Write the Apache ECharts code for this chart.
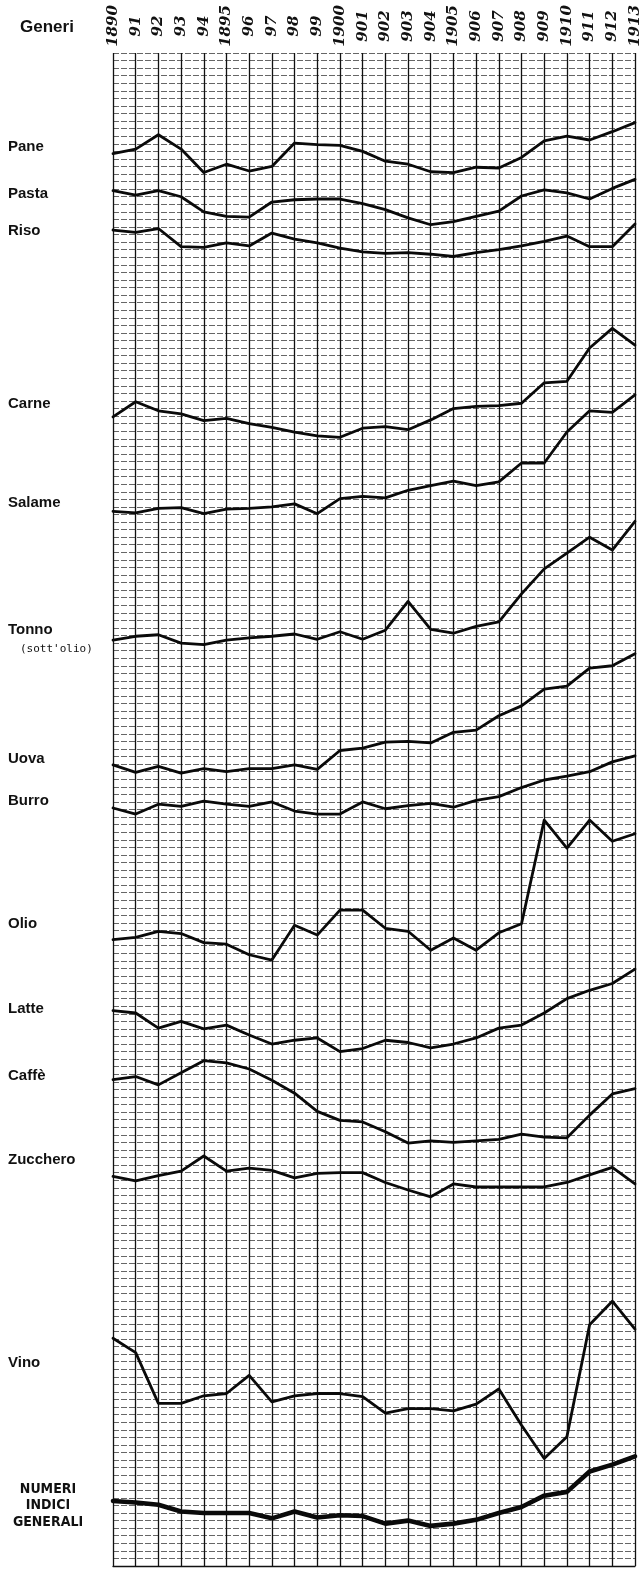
<!DOCTYPE html>
<html>
<head>
<meta charset="utf-8">
<script src="https://cdn.jsdelivr.net/npm/echarts@6/dist/echarts.min.js"></script>
<style>
html,body{margin:0;padding:0;background:#fff;}
#chart{width:643px;height:1572px;}
</style>
</head>
<body>
<div id="chart"></div>
<script>
// Years (tick labels as printed)
const years = ['1890','91','92','93','94','1895','96','97','98','99','1900','901','902','903','904','1905','906','907','908','909','1910','911','912','1913'];

// Values, in grid rows counted from the bottom of the sheet
const pane     = [186.7,187.3,189.2,187.3,184.2,185.3,184.4,185.0,188.1,187.9,187.8,187.0,185.7,185.3,184.3,184.2,184.9,184.8,186.2,188.4,189.0,188.5,189.6,190.8];
const pasta    = [181.8,181.2,181.8,181.0,179.0,178.4,178.3,180.3,180.6,180.7,180.7,180.1,179.3,178.2,177.3,177.7,178.4,179.1,181.1,181.9,181.5,180.7,182.1,183.3];
const riso     = [176.6,176.3,176.8,174.4,174.3,174.9,174.5,176.2,175.4,174.9,174.2,173.7,173.5,173.6,173.4,173.1,173.6,174.0,174.5,175.1,175.8,174.4,174.4,177.4];
const carne    = [151.9,153.9,152.7,152.3,151.4,151.7,151.0,150.5,149.9,149.4,149.2,150.4,150.6,150.2,151.5,153.0,153.3,153.4,153.7,156.4,156.6,161.0,163.6,161.4];
const salame   = [139.4,139.2,139.8,139.9,139.1,139.7,139.8,140.0,140.4,139.1,141.1,141.4,141.2,142.2,142.8,143.4,142.8,143.3,145.8,145.8,149.9,152.7,152.5,154.8];
const tonno    = [122.4,122.9,123.1,122.0,121.8,122.4,122.7,122.9,123.2,122.5,123.5,122.5,123.7,127.5,123.8,123.3,124.2,124.8,128.5,131.8,133.9,136.0,134.3,138.1];
const uova     = [105.9,104.9,105.7,104.8,105.4,105.0,105.4,105.4,105.9,105.3,107.8,108.1,108.9,109.0,108.8,110.2,110.5,112.4,113.7,115.9,116.3,118.7,119.0,120.6];
const burro    = [100.2,99.4,100.7,100.4,101.1,100.7,100.4,101.0,99.8,99.4,99.4,101.0,100.1,100.5,100.8,100.3,101.2,101.7,102.9,103.9,104.4,105.0,106.3,107.1];
const olio     = [82.8,83.1,83.9,83.6,82.4,82.2,80.8,80.1,84.7,83.4,86.7,86.7,84.3,83.9,81.4,83.0,81.4,83.7,84.9,98.6,94.9,98.6,95.8,96.8];
const latte    = [73.4,73.1,71.1,72.0,71.0,71.5,70.2,69.0,69.5,69.8,68.0,68.4,69.5,69.2,68.5,69.0,69.8,71.1,71.5,73.1,75.0,76.1,77.0,78.9];
const caffe    = [64.3,64.7,63.6,65.2,66.8,66.5,65.7,64.2,62.5,60.1,58.9,58.7,57.4,55.9,56.2,56.0,56.2,56.4,57.1,56.7,56.6,59.6,62.4,63.1];
const zucchero = [51.5,50.9,51.6,52.2,54.2,52.2,52.6,52.3,51.3,51.9,52.0,52.0,50.7,49.7,48.8,50.5,50.1,50.1,50.1,50.1,50.7,51.7,52.7,50.5];
const vino     = [30.1,28.2,21.5,21.5,22.5,22.8,25.2,21.7,22.5,22.8,22.8,22.4,20.2,20.8,20.8,20.5,21.4,23.4,18.6,14.2,17.1,31.9,35.0,31.3];
const indici   = [8.6,8.4,8.1,7.2,7.0,7.0,7.0,6.3,7.2,6.4,6.7,6.6,5.6,6.0,5.3,5.6,6.1,7.0,7.8,9.3,9.8,12.5,13.4,14.5];

const seriesNames = ['Pane','Pasta','Riso','Carne','Salame','Tonno','Uova','Burro','Olio','Latte','Caffè','Zucchero','Vino','Numeri indici generali'];
const seriesData  = [pane,pasta,riso,carne,salame,tonno,uova,burro,olio,latte,caffe,zucchero,vino,indici];

const chart = echarts.init(document.getElementById('chart'), null, {renderer:'canvas'});

const series = seriesNames.map((n,i)=>({
  name:n, type:'line', data:seriesData[i], showSymbol:false, symbol:'none',
  lineStyle:{color:'#0a0a0a', width: i===13 ? 4.6 : 2.8, join:'round', cap:'round'},
  silent:true, animation:false, z:5
}));

const labelFont = 'bold 15px "Liberation Sans", Arial, sans-serif';
function lbl(text, y){
  return {type:'text', left:8, top:y-9, style:{text:text, font:labelFont, fill:'#111'}};
}

chart.setOption({
  animation:false,
  backgroundColor:'#fff',
  grid:{left:113, right:8, top:53, bottom:6, containLabel:false},
  xAxis:{
    type:'category', data:years, boundaryGap:false, position:'top',
    axisLine:{show:true, lineStyle:{color:'#111', width:1.3}},
    axisTick:{show:false},
    axisLabel:{rotate:90, align:'center', verticalAlign:'middle', margin:27, interval:0,
      fontFamily:'"DejaVu Serif", "Liberation Serif", serif', fontStyle:'italic', fontWeight:'bold', fontSize:15, color:'#111'},
    splitLine:{show:true, lineStyle:{color:'#111', width:1.3}}
  },
  yAxis:{
    type:'value', min:0, max:200, interval:1,
    axisLine:{show:false}, axisTick:{show:false}, axisLabel:{show:false},
    splitLine:{show:true, lineStyle:{color:'#666', width:1, type:[6,2]}}
  },
  series:series,
  graphic:[
    {type:'text', left:20, top:19, style:{text:'Generi', font:'bold 17px "Liberation Sans", Arial, sans-serif', fill:'#111'}},
    lbl('Pane',148), lbl('Pasta',195), lbl('Riso',232), lbl('Carne',405), lbl('Salame',504),
    lbl('Tonno',631),
    {type:'text', left:20, top:644, style:{text:"(sott'olio)", font:'11px "DejaVu Sans Mono", monospace', fill:'#111'}},
    lbl('Uova',760), lbl('Burro',802), lbl('Olio',925), lbl('Latte',1010), lbl('Caffè',1077),
    lbl('Zucchero',1161), lbl('Vino',1364),
    {type:'text', x:48, y:1481, style:{text:'NUMERI\nINDICI\nGENERALI', font:'bold 14px "DejaVu Sans Condensed", "Liberation Sans Narrow", Arial, sans-serif', fill:'#111', align:'center', verticalAlign:'top', lineHeight:16.5}}
  ]
});
</script>
</body>
</html>
